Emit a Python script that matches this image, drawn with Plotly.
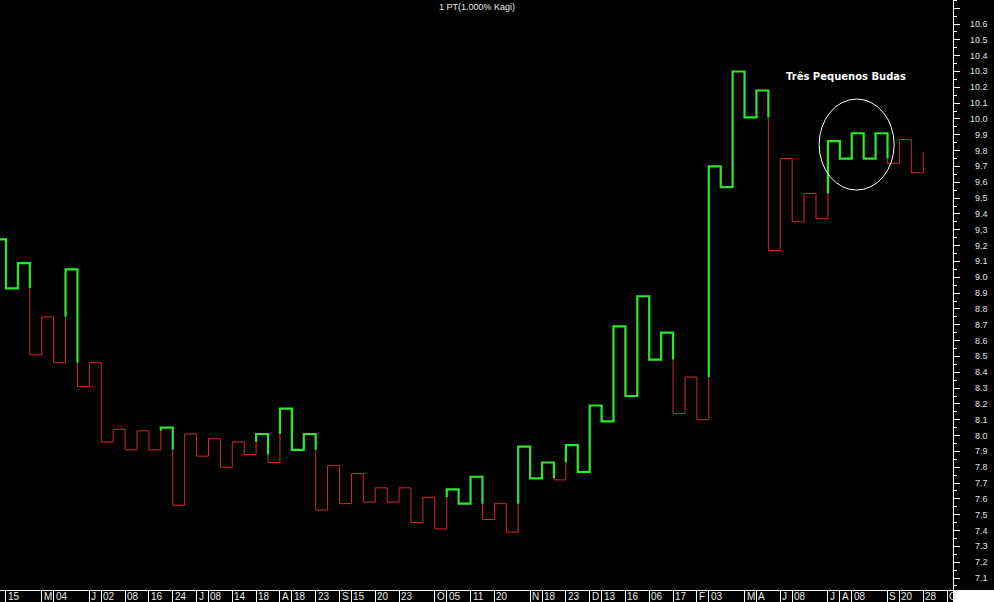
import plotly.graph_objects as go

# Kagi turning levels (price) from left to right; the first one enters from off-screen
levels = [9.24, 8.93, 9.09, 8.51, 8.75, 8.46, 9.05, 8.31, 8.46, 7.96,
          8.04, 7.91, 8.03, 7.91, 8.05, 7.56, 8.01, 7.87, 7.98, 7.80,
          7.96, 7.88, 8.01, 7.83, 8.17, 7.91, 8.01, 7.53, 7.81, 7.57,
          7.76, 7.58, 7.67, 7.58, 7.67, 7.45, 7.61, 7.41, 7.66, 7.57,
          7.74, 7.47, 7.57, 7.39, 7.93, 7.73, 7.83, 7.72, 7.94, 7.77,
          8.19, 8.09, 8.69, 8.25, 8.88, 8.48, 8.65, 8.14, 8.37, 8.10,
          9.70, 9.57, 10.30, 10.01, 10.18, 9.17, 9.75, 9.35, 9.53, 9.37,
          9.86, 9.75, 9.91, 9.75, 9.91, 9.72, 9.87, 9.66, 9.79]

# date labels on the bottom strip, placed at the reversal index where they start
date_idx = [0, 3, 4, 7, 8, 10, 12, 14, 16, 17, 19, 21, 23, 24, 26, 28, 29, 31, 33,
            36, 37, 39, 41, 44, 45, 47, 49, 50, 52, 54, 56, 58, 59, 62, 63, 65, 66,
            69, 70, 71, 74, 75, 77, 79]
date_text = ["15", "M", "04", "J", "02", "08", "16", "24", "J", "08", "14", "18", "A", "18",
             "23", "S", "15", "20", "23", "O", "05", "11", "20", "N", "18", "23", "D", "13",
             "16", "06", "17", "F", "03", "M", "A", "J", "08", "J", "A", "08", "S", "20",
             "28", "O"]

price_ticks = [round(7.1 + 0.1 * i, 1) for i in range(36)]

GREEN = "#2fe62f"
RED = "#d42a2a"


def kagi_pieces(lv):
    # yang (green) above the last shoulder, yin (red) below the last waist
    pieces = [(-0.5, lv[0], 0, lv[0], "g")]
    state = "g"
    shoulder, waist = lv[0], float("-inf")
    n = len(lv) - 1
    for k in range(n):
        a, b = lv[k], lv[k + 1]
        if b < a:
            if state == "g" and b < waist:
                pieces.append((k, a, k, waist, "g"))
                pieces.append((k, waist, k, b, "r"))
                state = "r"
            else:
                pieces.append((k, a, k, b, state))
            waist = b
        else:
            if state == "r" and b > shoulder:
                pieces.append((k, a, k, shoulder, "r"))
                pieces.append((k, shoulder, k, b, "g"))
                state = "g"
            else:
                pieces.append((k, a, k, b, state))
            shoulder = b
        if k < n - 1:
            pieces.append((k, b, k + 1, b, state))
    return pieces


def to_xy(pieces, col):
    xs, ys = [], []
    last = None
    for x0, y0, x1, y1, c in pieces:
        if c != col:
            continue
        if last != (x0, y0):
            if xs:
                xs.append(None)
                ys.append(None)
            xs.append(x0)
            ys.append(y0)
        xs.append(x1)
        ys.append(y1)
        last = (x1, y1)
    return xs, ys


pieces = kagi_pieces(levels)
rx, ry = to_xy(pieces, "r")
gx, gy = to_xy(pieces, "g")

fig = go.Figure()
fig.add_trace(go.Scatter(x=rx, y=ry, mode="lines", line=dict(color=RED, width=1),
                         hoverinfo="skip", showlegend=False))
fig.add_trace(go.Scatter(x=gx, y=gy, mode="lines", line=dict(color=GREEN, width=2.2),
                         hoverinfo="skip", showlegend=False))

annotations = [
    dict(text="1 PT(1.000% Kagi)", xref="paper", yref="paper", x=0.5, y=1,
         xanchor="center", yanchor="top", showarrow=False,
         font=dict(size=9, color="#e8e8e8")),
    dict(text="<b>Três Pequenos Budas</b>", x=70.5, y=10.27, showarrow=False,
         font=dict(size=10, color="white", family="DejaVu Sans")),
]
for v in price_ticks:
    annotations.append(dict(text=f"{v:.1f}", xref="paper", x=1, xshift=37, y=v,
                            xanchor="right", yanchor="middle", showarrow=False,
                            font=dict(size=9, color="#e0e0e0")))
for i, t in zip(date_idx, date_text):
    annotations.append(dict(text=t, x=i, yref="paper", y=0, xanchor="left",
                            yanchor="top", yshift=1, showarrow=False,
                            font=dict(size=10, color="#e8e8e8")))

fig.update_layout(
    width=994,
    height=602,
    autosize=False,
    paper_bgcolor="black",
    plot_bgcolor="black",
    font=dict(family="Liberation Sans, Arial, sans-serif", color="white"),
    margin=dict(l=0, r=41, t=0, b=12),
    xaxis=dict(range=[-0.5, 79.5], showgrid=False, zeroline=False,
               showline=True, linecolor="white", linewidth=1,
               tickvals=date_idx, ticks="outside", ticklen=12,
               tickcolor="white", tickwidth=1, showticklabels=False),
    yaxis=dict(range=[7.0245, 10.7516], side="right", showgrid=False, zeroline=False,
               showline=True, linecolor="white", linewidth=1,
               tick0=7.0, dtick=0.1, ticks="outside", ticklen=6,
               tickcolor="white", showticklabels=False,
               minor=dict(dtick=0.05, ticks="outside", ticklen=3, tickcolor="white")),
    shapes=[
        dict(type="circle", x0=68.26, x1=74.56, y0=9.551, y1=10.126,
             line=dict(color="white", width=1)),
        dict(type="rect", xref="paper", yref="paper", x0=1.0, x1=1.05,
             y0=-0.021, y1=0, fillcolor="white", line=dict(width=0)),
    ],
    annotations=annotations,
)

# drop the browser's default body margin so the figure sits at the page corner
fig.write_html("out.html", config={"displayModeBar": False},
               post_script="document.body.style.margin='0';")
